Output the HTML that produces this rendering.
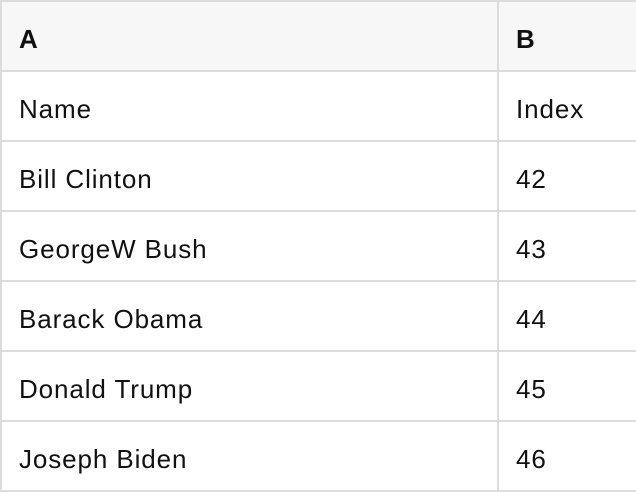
<!DOCTYPE html>
<html><head><meta charset="utf-8"><style>
html,body{margin:0;padding:0;background:#fff;width:636px;height:489px;overflow:hidden}
table{border-collapse:collapse;position:absolute;left:0;top:0;width:640px;table-layout:fixed;font-family:"Liberation Sans",Arial,sans-serif;font-size:26px;letter-spacing:0.9px;color:#111}
td,th{border:2px solid #dcdcdc;height:62px;padding:6px 0 0 17px;text-align:left;vertical-align:middle}
th{background:#f7f7f7;font-weight:bold}
col.a{width:497px}
</style></head><body>
<table>
<colgroup><col class="a"><col></colgroup>
<tr><th>A</th><th>B</th></tr>
<tr><td>Name</td><td>Index</td></tr>
<tr><td>Bill Clinton</td><td>42</td></tr>
<tr><td>GeorgeW Bush</td><td>43</td></tr>
<tr><td>Barack Obama</td><td>44</td></tr>
<tr><td>Donald Trump</td><td>45</td></tr>
<tr><td>Joseph Biden</td><td>46</td></tr>
</table>
</body></html>
